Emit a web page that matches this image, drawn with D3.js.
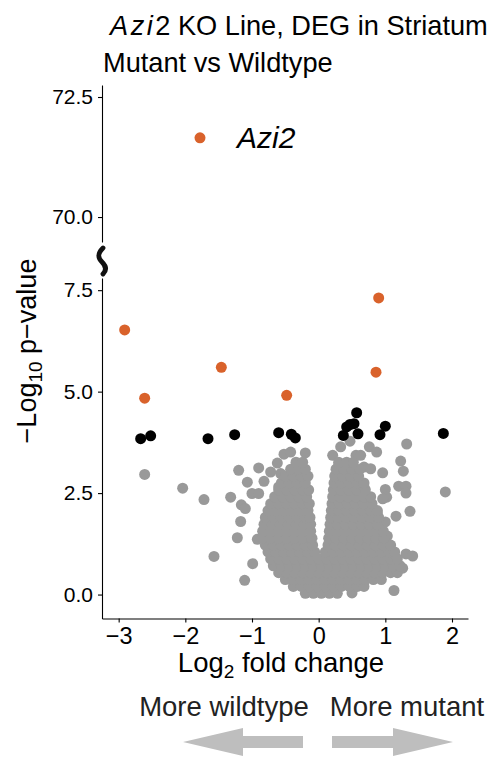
<!DOCTYPE html>
<html>
<head>
<meta charset="utf-8">
<script src="https://cdn.jsdelivr.net/npm/d3@7"></script>
<style>
  html, body { margin: 0; padding: 0; background: #fff; }
  svg { display: block; font-family: "Liberation Sans", Arial, Helvetica, sans-serif; }
</style>
</head>
<body>
<svg id="chart" width="494" height="764"></svg>
<script>
// ---- data -------------------------------------------------------------
const xTicks = [-3, -2, -1, 0, 1, 2];
const yTicksLow = [0, 2.5, 5, 7.5];
const yTicksHigh = [70, 72.5];

// highlighted gene above the axis break
const topGene = [{ name: "Azi2", lfc: -1.78, logp: 71.65 }];

// strongest hits (orange)
const sigLfc  = [-2.91, -2.61, -1.46, -0.48, 0.86, 0.90];
const sigLogp = [ 6.52,  4.84,  5.60,  4.91, 5.48, 7.31];

// genes just past the threshold (black)
const hitLfc  = [-2.67, -2.52, -1.66, -1.26, -0.60, -0.41, -0.35, 0.37, 0.42, 0.47, 0.53, 0.57, 0.59, 0.92, 1.00, 1.87];
const hitLogp = [ 3.84,  3.91,  3.84,  3.94,  3.99,  3.95,  3.86, 3.92, 4.13, 4.19, 4.21, 4.48, 3.96, 3.94, 4.15, 3.97];

// scattered non-significant genes (grey), [lfc, -log10 p]
const looseGenes = [
  [-2.61, 2.96], [-2.04, 2.62], [-1.72, 2.34], [-1.32, 2.40], [-1.57, 0.94],
  [-1.20, 3.06], [-1.07, 2.77], [-1.16, 2.21], [-1.10, 2.12], [-1.17, 1.80],
  [-1.22, 1.40], [-0.92, 1.36], [-0.99, 0.76], [-1.11, 0.35], [-0.90, 3.12],
  [-0.82, 2.79], [-0.72, 3.02], [-0.62, 3.24], [-0.52, 3.46], [-0.42, 3.51],
  [-0.20, 3.49], [-0.27, 3.23], [-0.57, 2.98], [-0.47, 2.90], [-1.00, 2.49],
  [-0.90, 2.49], [-0.60, 2.65],
  [0.21, 3.43], [0.33, 3.64], [0.47, 3.78], [0.76, 3.64], [0.87, 3.51],
  [1.32, 3.71], [1.23, 3.29], [1.27, 3.04], [0.96, 3.00], [1.20, 2.67],
  [1.31, 2.67], [1.31, 2.50], [1.37, 2.05], [1.16, 1.93], [1.90, 2.53],
  [1.03, 1.44], [1.31, 1.00], [1.41, 0.95], [1.13, 0.10], [0.50, 0.04],
  [1.26, 0.65], [0.56, 3.43], [0.63, 3.43], [0.30, 3.19], [0.43, 3.14],
  [0.68, 3.14], [0.78, 3.10], [1.00, 2.59], [1.02, 2.40], [0.96, 2.36],
  [0.88, 2.01], [1.00, 1.79], [0.63, 2.73], [0.68, 2.65]
];

// bulk of the grey genes, listed row by row: [-log10 p, lfc values]
const bulkRows = [
  [0.03, [-0.20, -0.08, 0.04, 0.16, 0.28]],
  [0.20, [-0.38, -0.26, -0.14, -0.02, 0.10, 0.22, 0.34, 0.46, 0.58, 0.68]],
  [0.37, [-0.50, -0.38, -0.26, -0.14, -0.02, 0.10, 0.22, 0.34, 0.46, 0.58, 0.70, 0.82, 0.94]],
  [0.54, [-0.60, -0.48, -0.36, -0.24, -0.12, 0.00, 0.12, 0.24, 0.36, 0.48, 0.60, 0.72, 0.84, 0.96, 1.08, 1.18]],
  [0.71, [-0.68, -0.56, -0.44, -0.32, -0.20, -0.08, 0.04, 0.16, 0.28, 0.40, 0.52, 0.64, 0.76, 0.88, 1.00, 1.12, 1.22]],
  [0.88, [-0.72, -0.60, -0.48, -0.36, -0.24, -0.12, 0.00, 0.12, 0.24, 0.36, 0.48, 0.60, 0.72, 0.84, 0.96, 1.08, 1.18]],
  [1.05, [-0.76, -0.64, -0.52, -0.40, -0.28, -0.16, -0.06, 0.10, 0.22, 0.34, 0.46, 0.58, 0.70, 0.82, 0.94, 1.06, 1.14]],
  [1.22, [-0.80, -0.68, -0.56, -0.44, -0.32, -0.20, -0.09, 0.14, 0.25, 0.37, 0.49, 0.61, 0.73, 0.85, 0.97, 1.08]],
  [1.39, [-0.84, -0.72, -0.60, -0.48, -0.36, -0.24, -0.10, 0.15, 0.26, 0.38, 0.50, 0.62, 0.74, 0.86, 0.98]],
  [1.56, [-0.84, -0.72, -0.60, -0.48, -0.36, -0.24, -0.12, 0.16, 0.27, 0.39, 0.51, 0.63, 0.75, 0.87, 0.97]],
  [1.73, [-0.82, -0.70, -0.58, -0.46, -0.34, -0.22, -0.12, 0.17, 0.28, 0.40, 0.52, 0.64, 0.76, 0.88]],
  [1.90, [-0.80, -0.68, -0.56, -0.44, -0.32, -0.20, -0.13, 0.18, 0.29, 0.41, 0.53, 0.65, 0.77, 0.90]],
  [2.07, [-0.76, -0.64, -0.52, -0.40, -0.28, -0.16, 0.19, 0.30, 0.42, 0.54, 0.66, 0.78, 0.88]],
  [2.24, [-0.72, -0.60, -0.48, -0.36, -0.24, -0.14, 0.20, 0.31, 0.43, 0.55, 0.67, 0.80]],
  [2.41, [-0.66, -0.54, -0.42, -0.30, -0.18, 0.21, 0.32, 0.44, 0.56, 0.68, 0.78]],
  [2.58, [-0.60, -0.48, -0.36, -0.24, -0.15, 0.22, 0.33, 0.45, 0.57, 0.70]],
  [2.75, [-0.56, -0.44, -0.32, -0.20, 0.23, 0.34, 0.46, 0.58, 0.68]],
  [2.92, [-0.50, -0.38, -0.26, -0.16, 0.24, 0.36, 0.48, 0.60]],
  [3.09, [-0.42, -0.30, -0.20, 0.26, 0.38, 0.50, 0.62]],
  [3.26, [-0.34, -0.24, 0.30, 0.42, 0.52]]
];

// ---- layout -----------------------------------------------------------
const svg = d3.select("#chart");
const R = 5.5;
const col = { sig: "#D9622B", hit: "#000000", ns: "#999999", arrow: "#BEBEBE" };

const x = d3.scaleLinear().domain([-3.25, 2.24]).range([102, 468]);
const yLow = d3.scaleLinear().domain([-0.59, 7.8]).range([618.5, 278]);
const yHigh = d3.scaleLinear().domain([69.48, 72.75]).range([242, 85]);

const fmt1 = d3.format(".1f");
const minus = s => String(s).replace("-", "\u2212");

// axes
function styleAxis(g, size) {
  g.selectAll("path.domain").attr("stroke", "#000").attr("stroke-width", 1.1);
  g.selectAll(".tick line").attr("stroke", "#000").attr("stroke-width", 1.1);
  g.selectAll(".tick text").attr("fill", "#000").style("font-size", size + "px")
    .style("font-family", '"Liberation Sans", Arial, sans-serif');
}

svg.append("g").attr("transform", "translate(102,0)")
  .call(d3.axisLeft(yHigh).tickValues(yTicksHigh).tickFormat(fmt1).tickSize(4).tickSizeOuter(0).tickPadding(5))
  .call(g => styleAxis(g, 21));

svg.append("g").attr("transform", "translate(102,0)")
  .call(d3.axisLeft(yLow).tickValues(yTicksLow).tickFormat(fmt1).tickSize(4).tickSizeOuter(0).tickPadding(5))
  .call(g => styleAxis(g, 21));

svg.append("g").attr("transform", "translate(0,618.5)")
  .call(d3.axisBottom(x).tickValues(xTicks).tickFormat(d => minus(d)).tickSize(4).tickSizeOuter(0).tickPadding(5))
  .call(g => styleAxis(g, 23.5));

// axis break mark
svg.append("path")
  .attr("d", "M103,248 C97,254 98,258 102,262 C106,266 107,270 103,274")
  .attr("fill", "none").attr("stroke", "#111").attr("stroke-width", 4.8)
  .attr("stroke-linecap", "round");

// ---- points -----------------------------------------------------------
const greyPts = looseGenes.map(([a, b]) => ({ lfc: a, logp: b }));
bulkRows.forEach(([yv, xs]) => xs.forEach(xv => greyPts.push({ lfc: xv, logp: yv })));

const plot = svg.append("g");
plot.selectAll("circle.ns").data(greyPts).join("circle")
  .attr("class", "ns").attr("cx", d => x(d.lfc)).attr("cy", d => yLow(d.logp))
  .attr("r", R).attr("fill", col.ns);

plot.selectAll("circle.hit").data(hitLfc.map((v, i) => ({ lfc: v, logp: hitLogp[i] }))).join("circle")
  .attr("class", "hit").attr("cx", d => x(d.lfc)).attr("cy", d => yLow(d.logp))
  .attr("r", R).attr("fill", col.hit);

plot.selectAll("circle.sig").data(sigLfc.map((v, i) => ({ lfc: v, logp: sigLogp[i] }))).join("circle")
  .attr("class", "sig").attr("cx", d => x(d.lfc)).attr("cy", d => yLow(d.logp))
  .attr("r", R).attr("fill", col.sig);

plot.selectAll("circle.top").data(topGene).join("circle")
  .attr("class", "top").attr("cx", d => x(d.lfc)).attr("cy", d => yHigh(d.logp))
  .attr("r", R).attr("fill", col.sig);

plot.selectAll("text.top").data(topGene).join("text")
  .attr("class", "top").attr("x", d => x(d.lfc) + 37).attr("y", d => yHigh(d.logp) + 10)
  .attr("font-size", 30).attr("font-style", "italic").attr("fill", "#000")
  .text(d => d.name);

// ---- titles -----------------------------------------------------------
const t1 = svg.append("text").attr("x", 110).attr("y", 35).attr("font-size", 27.2).attr("fill", "#000");
t1.append("tspan").attr("font-style", "italic").attr("letter-spacing", 2.5).text("Azi");
t1.append("tspan").text("2 KO Line, DEG in Striatum");

svg.append("text").attr("x", 103).attr("y", 72).attr("font-size", 27.2).attr("fill", "#000")
  .text("Mutant vs Wildtype");

const yl = svg.append("text").attr("transform", "translate(36,351) rotate(-90)")
  .attr("text-anchor", "middle").attr("font-size", 27).attr("fill", "#000");
yl.append("tspan").text("\u2212Log");
yl.append("tspan").attr("font-size", 19).attr("dy", 6).text("10");
yl.append("tspan").attr("dy", -6).text(" p\u2212value");

const xl = svg.append("text").attr("x", 281).attr("y", 672)
  .attr("text-anchor", "middle").attr("font-size", 27.5).attr("fill", "#000");
xl.append("tspan").text("Log");
xl.append("tspan").attr("font-size", 19).attr("dy", 6).text("2");
xl.append("tspan").attr("dy", -6).text(" fold change");

// direction hints
svg.append("text").attr("x", 224).attr("y", 716).attr("text-anchor", "middle")
  .attr("font-size", 27.5).attr("fill", "#222").text("More wildtype");
svg.append("text").attr("x", 407).attr("y", 716).attr("text-anchor", "middle")
  .attr("font-size", 27.5).attr("fill", "#222").text("More mutant");

const arrow = (x0, x1, yc) => {
  const dir = Math.sign(x1 - x0), head = 60, hb = 6, hh = 14;
  const xb = x1 - dir * head;
  return `M${x0},${yc - hb} L${xb},${yc - hb} L${xb},${yc - hh} L${x1},${yc} ` +
         `L${xb},${yc + hh} L${xb},${yc + hb} L${x0},${yc + hb} Z`;
};
svg.append("path").attr("d", arrow(303, 183, 742)).attr("fill", col.arrow);
svg.append("path").attr("d", arrow(332, 453, 742)).attr("fill", col.arrow);
</script>
</body>
</html>
